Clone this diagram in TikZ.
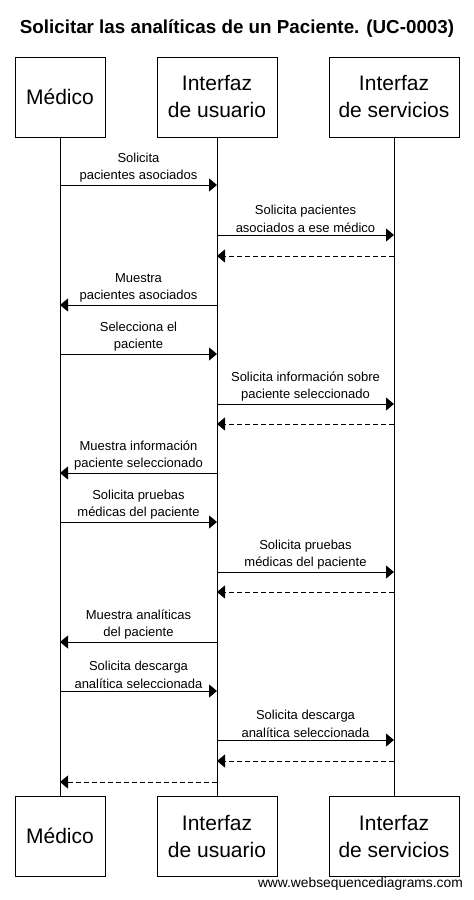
\documentclass[tikz,border=0pt]{standalone}
\usepackage{fontspec}
\setmainfont{Liberation Sans}
\usetikzlibrary{arrows.meta,positioning}
\tikzset{actor/.style={draw, line width=1pt, minimum height=80pt, align=center, inner sep=0pt, font=\fontsize{21}{27}\selectfont}}
\tikzset{callarrow/.style={line width=1pt, -{Triangle[length=8pt,width=13pt]}}}
\tikzset{replyarrow/.style={callarrow, dash pattern=on 5pt off 3pt}}
\tikzset{msglabel/.style={align=center, inner sep=2pt, font=\fontsize{13}{17.5}\selectfont}}

\begin{document}
\begin{tikzpicture}[x=1pt, y=-1pt]
\useasboundingbox (0,0) rectangle (474,900);
\node[anchor=base, font=\bfseries\fontsize{18.8}{22}\selectfont] (title) at (237,33) {Solicitar las analíticas de un Paciente. (UC-0003)};
\node[actor, minimum width=90pt] (med) at (60,97) {Médico};
\node[actor, minimum width=120pt] (usr) at (217,97) {Interfaz\\de usuario};
\node[actor, minimum width=130pt] (srv) at (394,97) {Interfaz\\de servicios};
\node[actor, minimum width=90pt] (medb) at (60,836) {Médico};
\node[actor, minimum width=120pt] (usrb) at (217,836) {Interfaz\\de usuario};
\node[actor, minimum width=130pt] (srvb) at (394,836) {Interfaz\\de servicios};
\draw[line width=1pt] (med.south) -- (medb.north);
\draw[line width=1pt] (usr.south) -- (usrb.north);
\draw[line width=1pt] (srv.south) -- (srvb.north);
\coordinate (r1) at (0,185);
\coordinate (r2) at (0,235);
\coordinate (r3) at (0,256);
\coordinate (r4) at (0,305);
\coordinate (r5) at (0,354);
\coordinate (r6) at (0,404);
\coordinate (r7) at (0,424);
\coordinate (r8) at (0,473);
\coordinate (r9) at (0,522);
\coordinate (r10) at (0,572);
\coordinate (r11) at (0,592);
\coordinate (r12) at (0,642);
\coordinate (r13) at (0,691);
\coordinate (r14) at (0,740);
\coordinate (r15) at (0,761);
\coordinate (r16) at (0,782);
\draw[callarrow] (r1 -| med) -- (r1 -| usr) node[msglabel, midway, above] {Solicita\\pacientes asociados};
\draw[callarrow] (r2 -| usr) -- (r2 -| srv) node[msglabel, midway, above] {Solicita pacientes\\asociados a ese médico};
\draw[replyarrow] (r3 -| srv) -- (r3 -| usr);
\draw[callarrow] (r4 -| usr) -- (r4 -| med) node[msglabel, midway, above] {Muestra\\pacientes asociados};
\draw[callarrow] (r5 -| med) -- (r5 -| usr) node[msglabel, midway, above] {Selecciona el\\paciente};
\draw[callarrow] (r6 -| usr) -- (r6 -| srv) node[msglabel, midway, above] {Solicita información sobre\\paciente seleccionado};
\draw[replyarrow] (r7 -| srv) -- (r7 -| usr);
\draw[callarrow] (r8 -| usr) -- (r8 -| med) node[msglabel, midway, above] {Muestra información\\paciente seleccionado};
\draw[callarrow] (r9 -| med) -- (r9 -| usr) node[msglabel, midway, above] {Solicita pruebas\\médicas del paciente};
\draw[callarrow] (r10 -| usr) -- (r10 -| srv) node[msglabel, midway, above] {Solicita pruebas\\médicas del paciente};
\draw[replyarrow] (r11 -| srv) -- (r11 -| usr);
\draw[callarrow] (r12 -| usr) -- (r12 -| med) node[msglabel, midway, above] {Muestra analíticas\\del paciente};
\draw[callarrow] (r13 -| med) -- (r13 -| usr) node[msglabel, midway, above] {Solicita descarga\\analítica seleccionada};
\draw[callarrow] (r14 -| usr) -- (r14 -| srv) node[msglabel, midway, above] {Solicita descarga\\analítica seleccionada};
\draw[replyarrow] (r15 -| srv) -- (r15 -| usr);
\draw[replyarrow] (r16 -| usr) -- (r16 -| med);
\node[anchor=base east, inner sep=0pt, font=\fontsize{13.8}{16}\selectfont] (wsd) at (463,887) {www.websequencediagrams.com};
\end{tikzpicture}
\end{document}
